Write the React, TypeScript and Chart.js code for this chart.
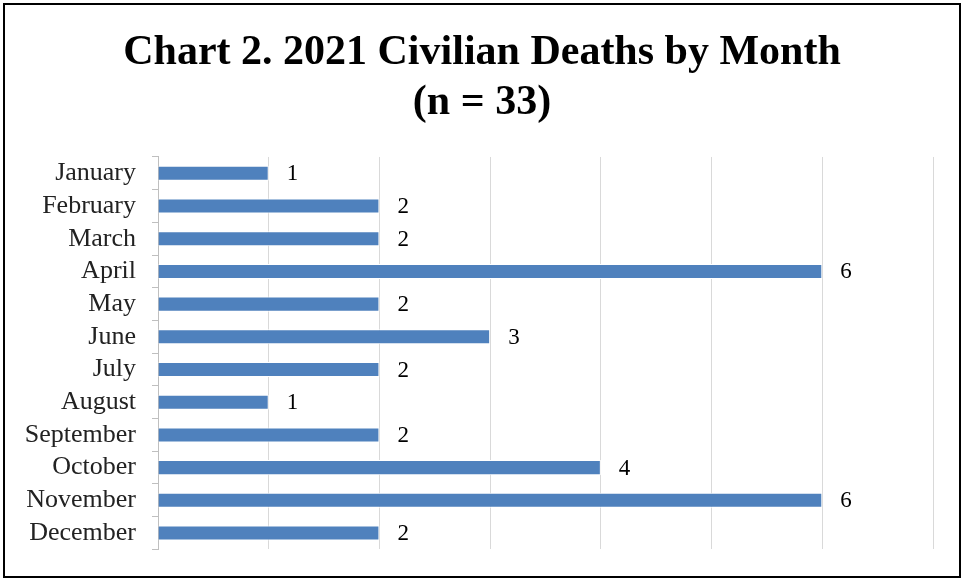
import React, { useEffect, useRef } from "react";
import { Chart, registerables } from "chart.js";

Chart.register(...registerables);

const months = [
  "January", "February", "March", "April", "May", "June",
  "July", "August", "September", "October", "November", "December",
];
const deaths = [1, 2, 2, 6, 2, 3, 2, 1, 2, 4, 6, 2];
const titleLines = ["Chart 2. 2021 Civilian Deaths by Month", "(n = 33)"];

const SERIF = "'Liberation Serif', 'Times New Roman', serif";

const valueLabels = {
  id: "valueLabels",
  afterDatasetsDraw(chart: any) {
    const { ctx } = chart;
    const meta = chart.getDatasetMeta(0);
    ctx.save();
    ctx.font = `23px ${SERIF}`;
    ctx.fillStyle = "#000";
    ctx.textAlign = "left";
    ctx.textBaseline = "middle";
    meta.data.forEach((bar: any, i: number) => {
      ctx.fillText(String(deaths[i]), bar.x + 18, bar.y + 1);
    });
    ctx.restore();
  },
};

export default function App() {
  const ref = useRef<HTMLCanvasElement>(null);
  useEffect(() => {
    if (!ref.current) return;
    const chart = new Chart(ref.current, {
      type: "bar",
      data: {
        labels: months,
        datasets: [
          {
            data: deaths,
            backgroundColor: "#4f81bd",
            borderColor: "#ffffff",
            borderWidth: 1,
            barPercentage: 0.46,
            categoryPercentage: 1,
          },
        ],
      },
      options: {
        indexAxis: "y",
        animation: false,
        responsive: false,
        maintainAspectRatio: false,
        layout: { padding: { top: 0, right: 0, bottom: 29, left: 0 } },
        plugins: {
          legend: { display: false },
          tooltip: { enabled: false },
          title: {
            display: true,
            text: titleLines,
            color: "#000",
            font: { family: SERIF, size: 42, weight: "bold", lineHeight: 1.19 },
            padding: { top: 28, bottom: 29 },
          },
        },
        scales: {
          x: {
            min: 0,
            max: 7,
            ticks: { display: false, stepSize: 1 },
            grid: { color: "#d9d9d9", lineWidth: 1, drawTicks: false },
            border: { display: false },
          },
          y: {
            afterFit: (s: any) => {
              s.width = 158;
            },
            ticks: {
              color: "#222",
              font: { family: SERIF, size: 26 },
              padding: 16,
              autoSkip: false,
            },
            grid: {
              offset: true,
              drawOnChartArea: false,
              tickLength: 6,
              color: "#bfbfbf",
            },
            border: { display: true, color: "#bfbfbf", width: 1 },
          },
          yRight: {
            type: "linear",
            position: "right",
            display: true,
            afterFit: (s: any) => {
              s.width = 31;
            },
            ticks: { display: false },
            grid: { display: false },
            border: { display: false },
          },
        },
      },
      plugins: [valueLabels],
    });
    return () => chart.destroy();
  }, []);
  return (
    <div style={{ position: "fixed", left: 0, top: 0, width: 964, height: 581, background: "#fff" }}>
      <canvas ref={ref} width={964} height={581} style={{ position: "absolute", left: 0, top: 0 }} />
      <div
        style={{
          position: "absolute",
          left: 3,
          top: 3,
          width: 958,
          height: 575,
          boxSizing: "border-box",
          border: "2px solid #000",
          pointerEvents: "none",
        }}
      />
    </div>
  );
}
